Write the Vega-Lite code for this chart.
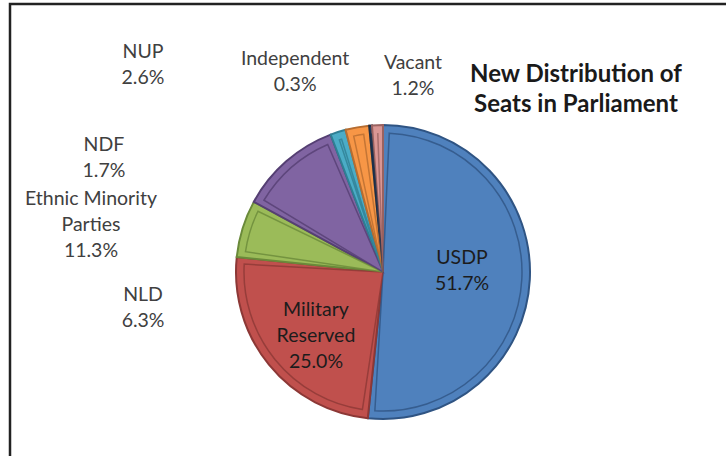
{
  "$schema": "https://vega.github.io/schema/vega-lite/v6.json",
  "width": 746,
  "height": 536,
  "autosize": {"type": "none"},
  "padding": {"left": 10, "top": 4, "right": -30, "bottom": -84},
  "background": "white",
  "view": {"stroke": "#222222", "strokeWidth": 2.5, "fill": "white"},
  "config": {
    "view": {"stroke": "#222222", "strokeWidth": 2.5, "fill": "white"},
    "style": {"view": {"stroke": "#222222", "strokeWidth": 2.5, "fill": "white"}}
  },
  "title": {
    "text": ["New Distribution of", "Seats in Parliament"],
    "font": "Lato",
    "fontSize": 24,
    "fontWeight": "bold",
    "color": "#1a1a1a",
    "anchor": "start",
    "frame": "group",
    "align": "center",
    "dx": 566,
    "orient": "top",
    "offset": -113,
    "lineHeight": 30
  },
  "data": {
    "values": [
      {"party": "USDP", "share": 51.7},
      {"party": "Military Reserved", "share": 25.0},
      {"party": "NLD", "share": 6.3},
      {"party": "Ethnic Minority Parties", "share": 11.3},
      {"party": "NDF", "share": 1.7},
      {"party": "NUP", "share": 2.6},
      {"party": "Independent", "share": 0.3},
      {"party": "Vacant", "share": 1.2}
    ]
  },
  "transform": [
    {"window": [{"op": "row_number", "as": "idx"}]},
    {"calculate": "replace(replace(datum.party, 'Minority ', 'Minority\\n'), 'Military ', 'Military\\n') + '\\n' + format(datum.share, '.1f') + '%'", "as": "label"}
  ],
  "layer": [
    {
      "mark": {"type": "arc", "outerRadius": 147, "strokeWidth": 2},
      "encoding": {
        "theta": {"field": "share", "type": "quantitative", "stack": true},
        "order": {"field": "idx", "type": "quantitative"},
        "color": {
          "field": "party", "type": "nominal", "legend": null,
          "scale": {
            "domain": ["USDP", "Military Reserved", "NLD", "Ethnic Minority Parties", "NDF", "NUP", "Independent", "Vacant"],
            "range": ["#4F81BD", "#C0504D", "#9BBB59", "#8064A2", "#4BACC6", "#F79646", "#2C4D75", "#D99694"]
          }
        },
        "stroke": {
          "field": "party", "type": "nominal", "legend": null,
          "scale": {
            "domain": ["USDP", "Military Reserved", "NLD", "Ethnic Minority Parties", "NDF", "NUP", "Independent", "Vacant"],
            "range": ["#2F5483", "#8C3836", "#6A8A3A", "#553F73", "#2F7F94", "#B66D31", "#1A2F4A", "#9A6260"]
          }
        }
      }
    },
    {
      "mark": {"type": "arc", "outerRadius": 139, "padAngle": 0.09, "strokeWidth": 1.5, "strokeOpacity": 0.8},
      "encoding": {
        "theta": {"field": "share", "type": "quantitative", "stack": true},
        "order": {"field": "idx", "type": "quantitative"},
        "color": {"field": "party", "type": "nominal", "legend": null},
        "stroke": {"field": "party", "type": "nominal", "legend": null}
      }
    },
    {
      "mark": {"type": "text", "font": "Lato", "fontSize": 19.5, "lineHeight": 26, "lineBreak": "\n", "align": "center", "baseline": "alphabetic"},
      "encoding": {
        "theta": {
          "field": "share", "type": "quantitative", "stack": null,
          "scale": {"type": "linear", "zero": false, "nice": false,
            "domain": [0.3, 1.2, 1.7, 2.6, 6.3, 11.3, 25.0, 51.7],
            "range": [5.8817, 0.1466, 5.1208, 5.4403, 4.5920, 4.9375, 4.1312, 1.4696]}
        },
        "radius": {
          "field": "share", "type": "quantitative",
          "scale": {"type": "linear", "zero": false, "nice": false,
            "domain": [0.3, 1.2, 1.7, 2.6, 6.3, 11.3, 25.0, 51.7],
            "range": [224.9, 205.2, 304.1, 321.5, 241.7, 299.6, 80.2, 79.4]}
        },
        "text": {"field": "label", "type": "nominal"},
        "color": {"condition": {"test": "datum.share >= 25", "value": "#1c1c1c"}, "value": "#404040"}
      }
    }
  ],
  "resolve": {"scale": {"theta": "independent", "radius": "independent"}}
}
